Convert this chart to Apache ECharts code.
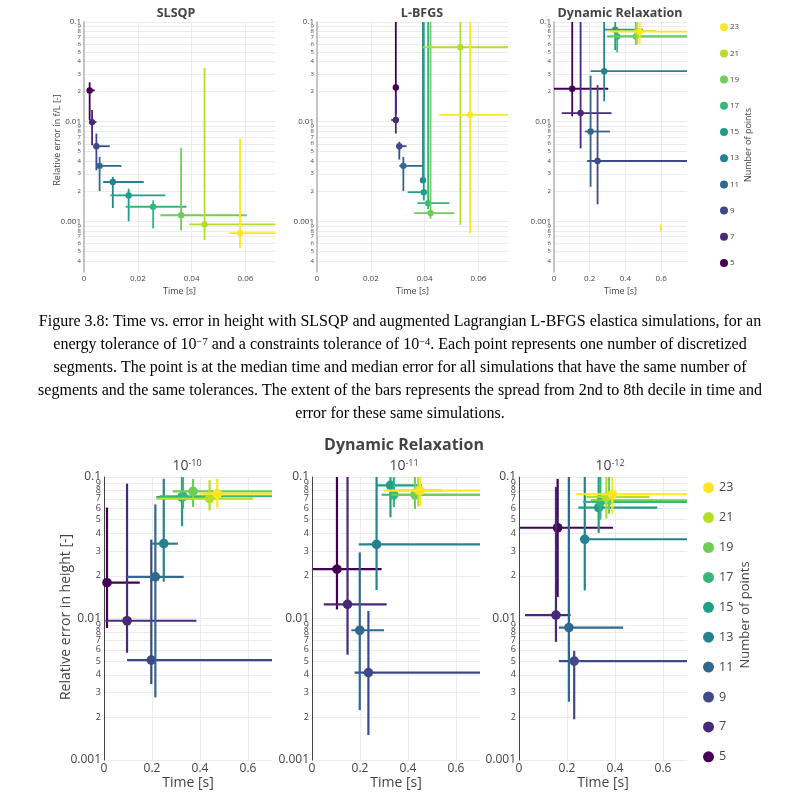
<!DOCTYPE html>
<html><head><meta charset="utf-8">
<script src="https://cdn.jsdelivr.net/npm/echarts@6/dist/echarts.min.js"></script>
<style>html,body{margin:0;padding:0;background:#fff}#c{width:800px;height:800px}</style>
</head><body><div id="c"></div><script>
// ---------- data ----------
const counts = [5, 7, 9, 11, 13, 15, 17, 19, 21, 23];
const viridis = ['#440154', '#482878', '#3e4989', '#31688e', '#26828e', '#1f9e89', '#35b779', '#6ece58', '#b5de2b', '#fde725'];
// rows: [medianTime, medianError, timeLo, timeHi, errorLo, errorHi]  (one row per number of points)
const slsqp = [
  [0.0021, 0.0206, 0.0012, 0.0040, 0.0104, 0.0248],
  [0.0030, 0.0099, 0.0021, 0.0046, 0.0058, 0.0131],
  [0.0046, 0.00567, 0.0040, 0.0096, 0.00325, 0.0076],
  [0.0058, 0.0036, 0.0046, 0.0139, 0.00201, 0.00443],
  [0.0107, 0.00248, 0.0071, 0.0222, 0.00136, 0.00278],
  [0.0166, 0.00182, 0.0098, 0.0302, 0.0010, 0.00212],
  [0.0257, 0.0014, 0.0155, 0.0381, 0.00085, 0.00162],
  [0.0361, 0.00115, 0.0284, 0.0605, 0.00081, 0.00546],
  [0.0448, 0.00093, 0.0391, 0.08, 0.00065, 0.0346],
  [0.0580, 0.00076, 0.0539, 0.08, 0.00054, 0.00679]
];
const lbfgs = [
  [0.0293, 0.022, 0.0285, 0.0300, 0.012, 0.2],
  [0.0293, 0.0104, 0.0276, 0.0304, 0.0076, 0.0179],
  [0.0306, 0.00567, 0.0294, 0.0333, 0.00417, 0.00628],
  [0.0321, 0.0036, 0.0306, 0.0394, 0.00201, 0.00443],
  [0.0394, 0.00258, 0.0388, 0.0400, 0.00242, 0.2],
  [0.0397, 0.00196, 0.0337, 0.0404, 0.00162, 0.2],
  [0.0413, 0.00152, 0.0373, 0.0492, 0.00133, 0.2],
  [0.0422, 0.00121, 0.0361, 0.0511, 0.00106, 0.2],
  [0.0533, 0.0558, 0.0394, 0.08, 0.00092, 0.2],
  [0.0569, 0.0117, 0.0453, 0.08, 0.00076, 0.2]
];
const drTop = [
  [0.102, 0.0214, 0.0, 0.304, 0.0113, 0.2],
  [0.149, 0.0122, 0.043, 0.322, 0.0054, 0.2],
  [0.244, 0.00403, 0.186, 0.9, 0.00148, 0.0233],
  [0.205, 0.00796, 0.173, 0.313, 0.00222, 0.029],
  [0.281, 0.0321, 0.205, 0.9, 0.016, 0.2],
  [0.343, 0.0837, 0.285, 0.499, 0.0522, 0.2],
  [0.354, 0.0716, 0.298, 0.9, 0.0497, 0.086],
  [0.458, 0.0716, 0.313, 0.9, 0.059, 0.2],
  [0.466, 0.081, 0.313, 0.574, 0.06, 0.2],
  [0.480, 0.080, 0.313, 0.9, 0.06, 0.2]
];
// stray yellow bar in the top Dynamic Relaxation panel: [time, errorLo, errorHi]
const drTopStray = [[0.598, 0.00079, 0.00093]];
const dr10 = [
  [0.0125, 0.0179, 0.003, 0.149, 0.00855, 0.0608],
  [0.096, 0.00964, 0.006, 0.385, 0.00573, 0.0897],
  [0.197, 0.00508, 0.096, 0.9, 0.00344, 0.0361],
  [0.214, 0.0197, 0.096, 0.332, 0.00277, 0.064],
  [0.249, 0.0338, 0.199, 0.308, 0.0182, 0.0973],
  [0.325, 0.0722, 0.218, 0.461, 0.0449, 0.2],
  [0.329, 0.0731, 0.232, 0.9, 0.0597, 0.2],
  [0.371, 0.0792, 0.287, 0.9, 0.0614, 0.097],
  [0.440, 0.0703, 0.218, 0.621, 0.058, 0.095],
  [0.472, 0.0763, 0.399, 0.9, 0.0607, 0.0973]
];
const dr11 = [
  [0.104, 0.0223, 0.004, 0.290, 0.0116, 0.2],
  [0.148, 0.0126, 0.049, 0.311, 0.00555, 0.2],
  [0.235, 0.00415, 0.178, 0.9, 0.0015, 0.0113],
  [0.199, 0.00826, 0.164, 0.300, 0.00225, 0.0293],
  [0.269, 0.0334, 0.195, 0.9, 0.0159, 0.2],
  [0.327, 0.0873, 0.269, 0.457, 0.052, 0.2],
  [0.341, 0.0749, 0.290, 0.9, 0.0612, 0.2],
  [0.429, 0.0749, 0.330, 0.9, 0.0595, 0.2],
  [0.443, 0.0804, 0.358, 0.543, 0.062, 0.2],
  [0.450, 0.0800, 0.300, 0.9, 0.062, 0.2]
];
const dr12 = [
  [0.161, 0.0438, 0.004, 0.392, 0.0142, 0.097],
  [0.154, 0.01057, 0.025, 0.215, 0.00684, 0.0849],
  [0.230, 0.0050, 0.166, 0.9, 0.00194, 0.0059],
  [0.208, 0.00863, 0.166, 0.434, 0.00258, 0.2],
  [0.274, 0.0363, 0.274, 0.9, 0.0158, 0.2],
  [0.332, 0.0608, 0.247, 0.576, 0.0403, 0.2],
  [0.339, 0.0667, 0.267, 0.9, 0.050, 0.2],
  [0.375, 0.0685, 0.300, 0.9, 0.055, 0.2],
  [0.364, 0.0723, 0.281, 0.544, 0.0508, 0.2],
  [0.389, 0.0755, 0.237, 0.9, 0.055, 0.2]
];
// tick labels
const topTimeTicks = [0, 0.02, 0.04, 0.06];
const drTimeTicks = [0, 0.2, 0.4, 0.6];
const majorTicks = [0.001, 0.01, 0.1];
const majorLabels = ['0.001', '0.01', '0.1'];
const minorDigits = [2, 3, 4, 5, 6, 7, 8, 9];
const topDecades = [0.0001, 0.001, 0.01];
const bottomDecades = [0.001, 0.01];
const panelTitles = ['SLSQP', 'L-BFGS', 'Dynamic Relaxation'];
const tolExponents = ['-10', '-11', '-12'];
const captionLines = [
  'Figure 3.8: Time vs. error in height with SLSQP and augmented Lagrangian L-BFGS elastica simulations, for an',
  'energy tolerance of 10{sup|\u22127} and a constraints tolerance of 10{sup|\u22124}. Each point represents one number of discretized',
  'segments. The point is at the median time and median error for all simulations that have the same number of',
  'segments and the same tolerances. The extent of the bars represents the spread from 2nd to 8th decile in time and',
  'error for these same simulations.'
];

// ---------- layout ----------
const FONT = '"Open Sans", sans-serif';
const panels = [
  { data: slsqp, ticks: topTimeTicks, xMax: 0.071, xInt: 0.02, yMin: 0.00031, decades: topDecades, box: { left: 84, top: 22, width: 191, height: 250 }, small: true },
  { data: lbfgs, ticks: topTimeTicks, xMax: 0.071, xInt: 0.02, yMin: 0.00031, decades: topDecades, box: { left: 317, top: 22, width: 191, height: 250 }, small: true },
  { data: drTop, ticks: drTimeTicks, xMax: 0.745, xInt: 0.2, yMin: 0.00031, decades: topDecades, box: { left: 554, top: 22, width: 133, height: 250 }, small: true },
  { data: dr10, ticks: drTimeTicks, xMax: 0.7, xInt: 0.2, yMin: 0.001, decades: bottomDecades, box: { left: 104, top: 477, width: 168, height: 283 }, small: false },
  { data: dr11, ticks: drTimeTicks, xMax: 0.7, xInt: 0.2, yMin: 0.001, decades: bottomDecades, box: { left: 312, top: 477, width: 168, height: 283 }, small: false },
  { data: dr12, ticks: drTimeTicks, xMax: 0.7, xInt: 0.2, yMin: 0.001, decades: bottomDecades, box: { left: 519, top: 477, width: 168, height: 283 }, small: false }
];

function barRenderer(lw, r) {
  return function (params, api) {
    const cs = params.coordSys;
    const cx = v => Math.max(cs.x, Math.min(cs.x + cs.width, v));
    const cy = v => Math.max(cs.y, Math.min(cs.y + cs.height, v));
    const p = api.coord([api.value(0), api.value(1)]);
    const l = api.coord([api.value(2), api.value(1)]);
    const rr = api.coord([api.value(3), api.value(1)]);
    const lo = api.coord([api.value(0), api.value(4)]);
    const hi = api.coord([api.value(0), api.value(5)]);
    const color = api.visual('color');
    return {
      type: 'group', children: [
        { type: 'line', shape: { x1: cx(l[0]), y1: p[1], x2: cx(rr[0]), y2: p[1] }, style: { stroke: color, lineWidth: lw } },
        { type: 'line', shape: { x1: p[0], y1: cy(hi[1]), x2: p[0], y2: cy(lo[1]) }, style: { stroke: color, lineWidth: lw } },
        { type: 'circle', shape: { cx: p[0], cy: p[1], r: r }, style: { fill: color } }
      ]
    };
  };
}
function strayRenderer(lw) {
  return function (params, api) {
    const a = api.coord([api.value(0), api.value(1)]);
    const b = api.coord([api.value(0), api.value(2)]);
    return { type: 'line', shape: { x1: a[0], y1: a[1], x2: b[0], y2: b[1] }, style: { stroke: api.visual('color'), lineWidth: lw } };
  };
}

const grids = [], xAxes = [], yAxes = [], series = [];
panels.forEach((pn, i) => {
  const sm = pn.small;
  grids.push(Object.assign({ containLabel: false }, pn.box));
  xAxes.push({
    type: 'value', gridIndex: i, min: 0, max: pn.xMax, interval: pn.xInt,
    name: 'Time [s]', nameLocation: 'middle', nameGap: sm ? 15 : 13,
    nameTextStyle: { fontFamily: FONT, fontSize: sm ? 9 : 14, color: '#444' },
    axisLine: { show: false }, axisTick: { show: false }, splitLine: { show: false },
    axisLabel: {
      fontFamily: FONT, fontSize: sm ? 8 : 12, color: '#444', margin: 3,
      formatter: v => { const t = pn.ticks.find(t => Math.abs(t - v) < 1e-9); return t === undefined ? '' : String(t); }
    }
  });
  yAxes.push({
    type: 'log', logBase: 10, gridIndex: i, min: pn.yMin, max: 0.1,
    axisLine: { show: true, lineStyle: { color: sm ? '#b0b0b0' : '#444', width: sm ? 1.5 : 1 } },
    axisTick: { show: false }, axisLabel: { show: false }, splitLine: { show: false }
  });
  // grid lines and tick labels drawn with markLines in data coordinates
  const ml = [];
  pn.ticks.forEach(t => { if (t > 0) ml.push({ xAxis: t, label: { show: false } }); });
  pn.decades.forEach(d => minorDigits.forEach(k => {
    const v = k * d;
    if (v >= pn.yMin && v < 0.1) ml.push({ yAxis: v, label: { show: true, formatter: String(k), fontSize: sm ? 6 : 9 } });
  }));
  majorTicks.forEach((v, j) => {
    if (v >= pn.yMin) ml.push({ yAxis: v, label: { show: true, formatter: majorLabels[j], fontSize: sm ? 8 : 12 } });
  });
  series.push({
    type: 'line', name: 'grid' + i, xAxisIndex: i, yAxisIndex: i, data: [], z: 0, silent: true,
    markLine: {
      silent: true, symbol: ['none', 'none'], animation: false, precision: 12, z: 0,
      lineStyle: { color: '#ebebeb', width: 1, type: 'solid' },
      label: { position: 'start', distance: 3, color: '#444', fontFamily: FONT },
      emphasis: { disabled: true },
      data: ml
    }
  });
  counts.forEach((n, k) => {
    series.push({
      type: 'custom', name: String(n), xAxisIndex: i, yAxisIndex: i, z: 2 + k,
      itemStyle: { color: viridis[k] },
      renderItem: barRenderer(sm ? 1.8 : 2.2, sm ? 3.2 : 4.8),
      encode: { x: 0, y: 1 },
      data: [pn.data[k]], animation: false
    });
  });
});
series.push({
  type: 'custom', name: '23', xAxisIndex: 2, yAxisIndex: 2, z: 12, itemStyle: { color: viridis[9] },
  renderItem: strayRenderer(1.8), encode: { x: 0, y: 1 }, data: drTopStray, animation: false
});

const legendNames = counts.slice().reverse().map(String);
const graphic = [];
[[176, 13], [422, 13], [620, 13]].forEach((p, i) => graphic.push({
  type: 'text', x: p[0], y: p[1], style: { text: panelTitles[i], fontFamily: FONT, fontWeight: 'bold', fontSize: 12.5, fill: '#444', textAlign: 'center', textVerticalAlign: 'middle' }
}));
graphic.push({ type: 'text', x: 404, y: 445, style: { text: 'Dynamic Relaxation', fontFamily: FONT, fontWeight: 'bold', fontSize: 16, fill: '#444', textAlign: 'center', textVerticalAlign: 'middle' } });
[[187, 466], [404, 466], [610, 466]].forEach((p, i) => graphic.push({
  type: 'text', x: p[0], y: p[1], style: {
    text: '{b|10}{s|' + tolExponents[i] + '}', textAlign: 'center', textVerticalAlign: 'middle',
    rich: { b: { fontFamily: FONT, fontSize: 14, fill: '#444', color: '#444' }, s: { fontFamily: FONT, fontSize: 9, fill: '#444', color: '#444', verticalAlign: 'top' } }
  }
}));
graphic.push({ type: 'text', x: 57, y: 140, rotation: Math.PI / 2, style: { text: 'Relative error in f/L [-]', fontFamily: FONT, fontSize: 9, fill: '#444', textAlign: 'center', textVerticalAlign: 'middle' } });
graphic.push({ type: 'text', x: 66, y: 617, rotation: Math.PI / 2, style: { text: 'Relative error in height [-]', fontFamily: FONT, fontSize: 14, fill: '#444', textAlign: 'center', textVerticalAlign: 'middle' } });
graphic.push({ type: 'text', x: 748, y: 145, rotation: Math.PI / 2, style: { text: 'Number of points', fontFamily: FONT, fontSize: 9, fill: '#444', textAlign: 'center', textVerticalAlign: 'middle' } });
graphic.push({ type: 'text', x: 745, y: 615, rotation: Math.PI / 2, style: { text: 'Number of points', fontFamily: FONT, fontSize: 13, fill: '#444', textAlign: 'center', textVerticalAlign: 'middle' } });
captionLines.forEach((line, i) => graphic.push({
  type: 'text', x: 400, y: 322 + i * 23, style: {
    text: line, textAlign: 'center', textVerticalAlign: 'middle',
    fontFamily: '"Liberation Serif", serif', fontSize: 16, fill: '#000',
    rich: { sup: { fontFamily: '"Liberation Serif", serif', fontSize: 10.5, fill: '#000', color: '#000', verticalAlign: 'top' } }
  }
}));

const chart = echarts.init(document.getElementById('c'), null, { renderer: 'canvas' });
chart.setOption({
  animation: false,
  backgroundColor: '#fff',
  textStyle: { fontFamily: FONT },
  grid: grids, xAxis: xAxes, yAxis: yAxes, series: series,
  legend: [
    { data: legendNames, orient: 'vertical', left: 715, top: 18.2, padding: 5, icon: 'circle', itemWidth: 8, itemHeight: 10, itemGap: 18.2, selectedMode: false,
      textStyle: { fontFamily: FONT, fontSize: 8, color: '#444', padding: [0, 0, 0, -3] } },
    { data: legendNames, orient: 'vertical', left: 698, top: 476.2, padding: 5, icon: 'circle', itemWidth: 11, itemHeight: 16, itemGap: 16.9, selectedMode: false,
      textStyle: { fontFamily: FONT, fontSize: 12.5, color: '#444' } }
  ],
  graphic: graphic
});
</script></body></html>
